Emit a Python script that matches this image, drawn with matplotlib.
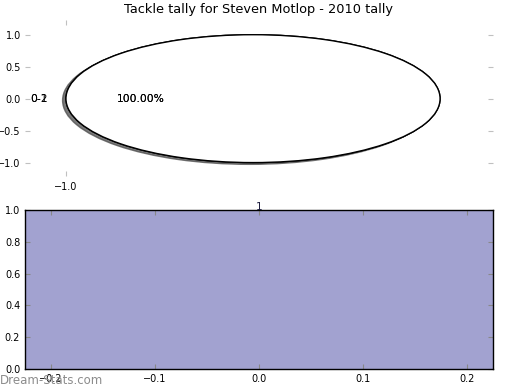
import matplotlib
matplotlib.use("Agg")
import matplotlib.pyplot as plt

# data
player = "Steven Motlop"
season = "2010"
pie_labels = ["0-1", "0-2"]
pie_values = [1]
bar_labels = ["1"]
bar_values = [1]

W, H = 520, 390
fig = plt.figure(figsize=(W / 100, H / 100), dpi=100)


def box(l, t, r, b):
    return [l / W, 1 - b / H, (r - l) / W, (b - t) / H]


# top: stretched pie with shadow, drawn once per label
ax1 = fig.add_axes(box(25, 20, 493, 176))
shadow = dict(ox=-0.013, oy=-0.02, alpha=0.75)
for k, lab in enumerate(pie_labels):
    ax1.pie(pie_values, labels=[lab], autopct="%1.2f%%",
            shadow=shadow if k == 0 else False,
            colors=["white"], wedgeprops=dict(edgecolor="black", linewidth=1),
            textprops=dict(fontsize=7.7))
ax1.set_aspect("auto")
ax1.set_frame_on(False)
ax1.set_xlim(-1.219, 1.283)
ax1.set_ylim(-1.21, 1.23)
ax1.set_xticks([-1.0])
ax1.set_xticklabels(["\u22121.0"])
ax1.set_yticks([1.0, 0.5, 0.0, -0.5, -1.0])
ax1.tick_params(direction="in", length=3.5, color="#c0c0c0", labelsize=7,
                top=True, right=True)
ax1.tick_params(axis="x", pad=4)
ax1.tick_params(axis="y", pad=3)
ax1.set_title(f"Tackle tally for {player} - {season} tally", fontsize=9.3, pad=5)

# bottom: single bar filling the axes
ax2 = fig.add_axes(box(25, 210, 493, 369))
ax2.bar(range(len(bar_values)), bar_values, width=0.45, color="#a2a2d0")
ax2.margins(x=0)
ax2.set_ylim(0, 1)
ax2.set_yticks([0.0, 0.2, 0.4, 0.6, 0.8, 1.0])
ax2.set_xticks([-0.2, -0.1, 0.0, 0.1, 0.2])
for i, v in enumerate(bar_values):
    ax2.text(i, v, bar_labels[i], ha="center", va="baseline", fontsize=7.7,
             color="#202040")
ax2.tick_params(direction="in", length=3.5, color="#888888", labelsize=7,
                top=True, right=True)
for s in ax2.spines.values():
    s.set_linewidth(1)

fig.text(0.0, 10 / H, "Dream-Stats.com", color="#8c8c8c", fontsize=8.5,
         ha="left", va="center", zorder=0)

fig.savefig("out.png", dpi=100)
